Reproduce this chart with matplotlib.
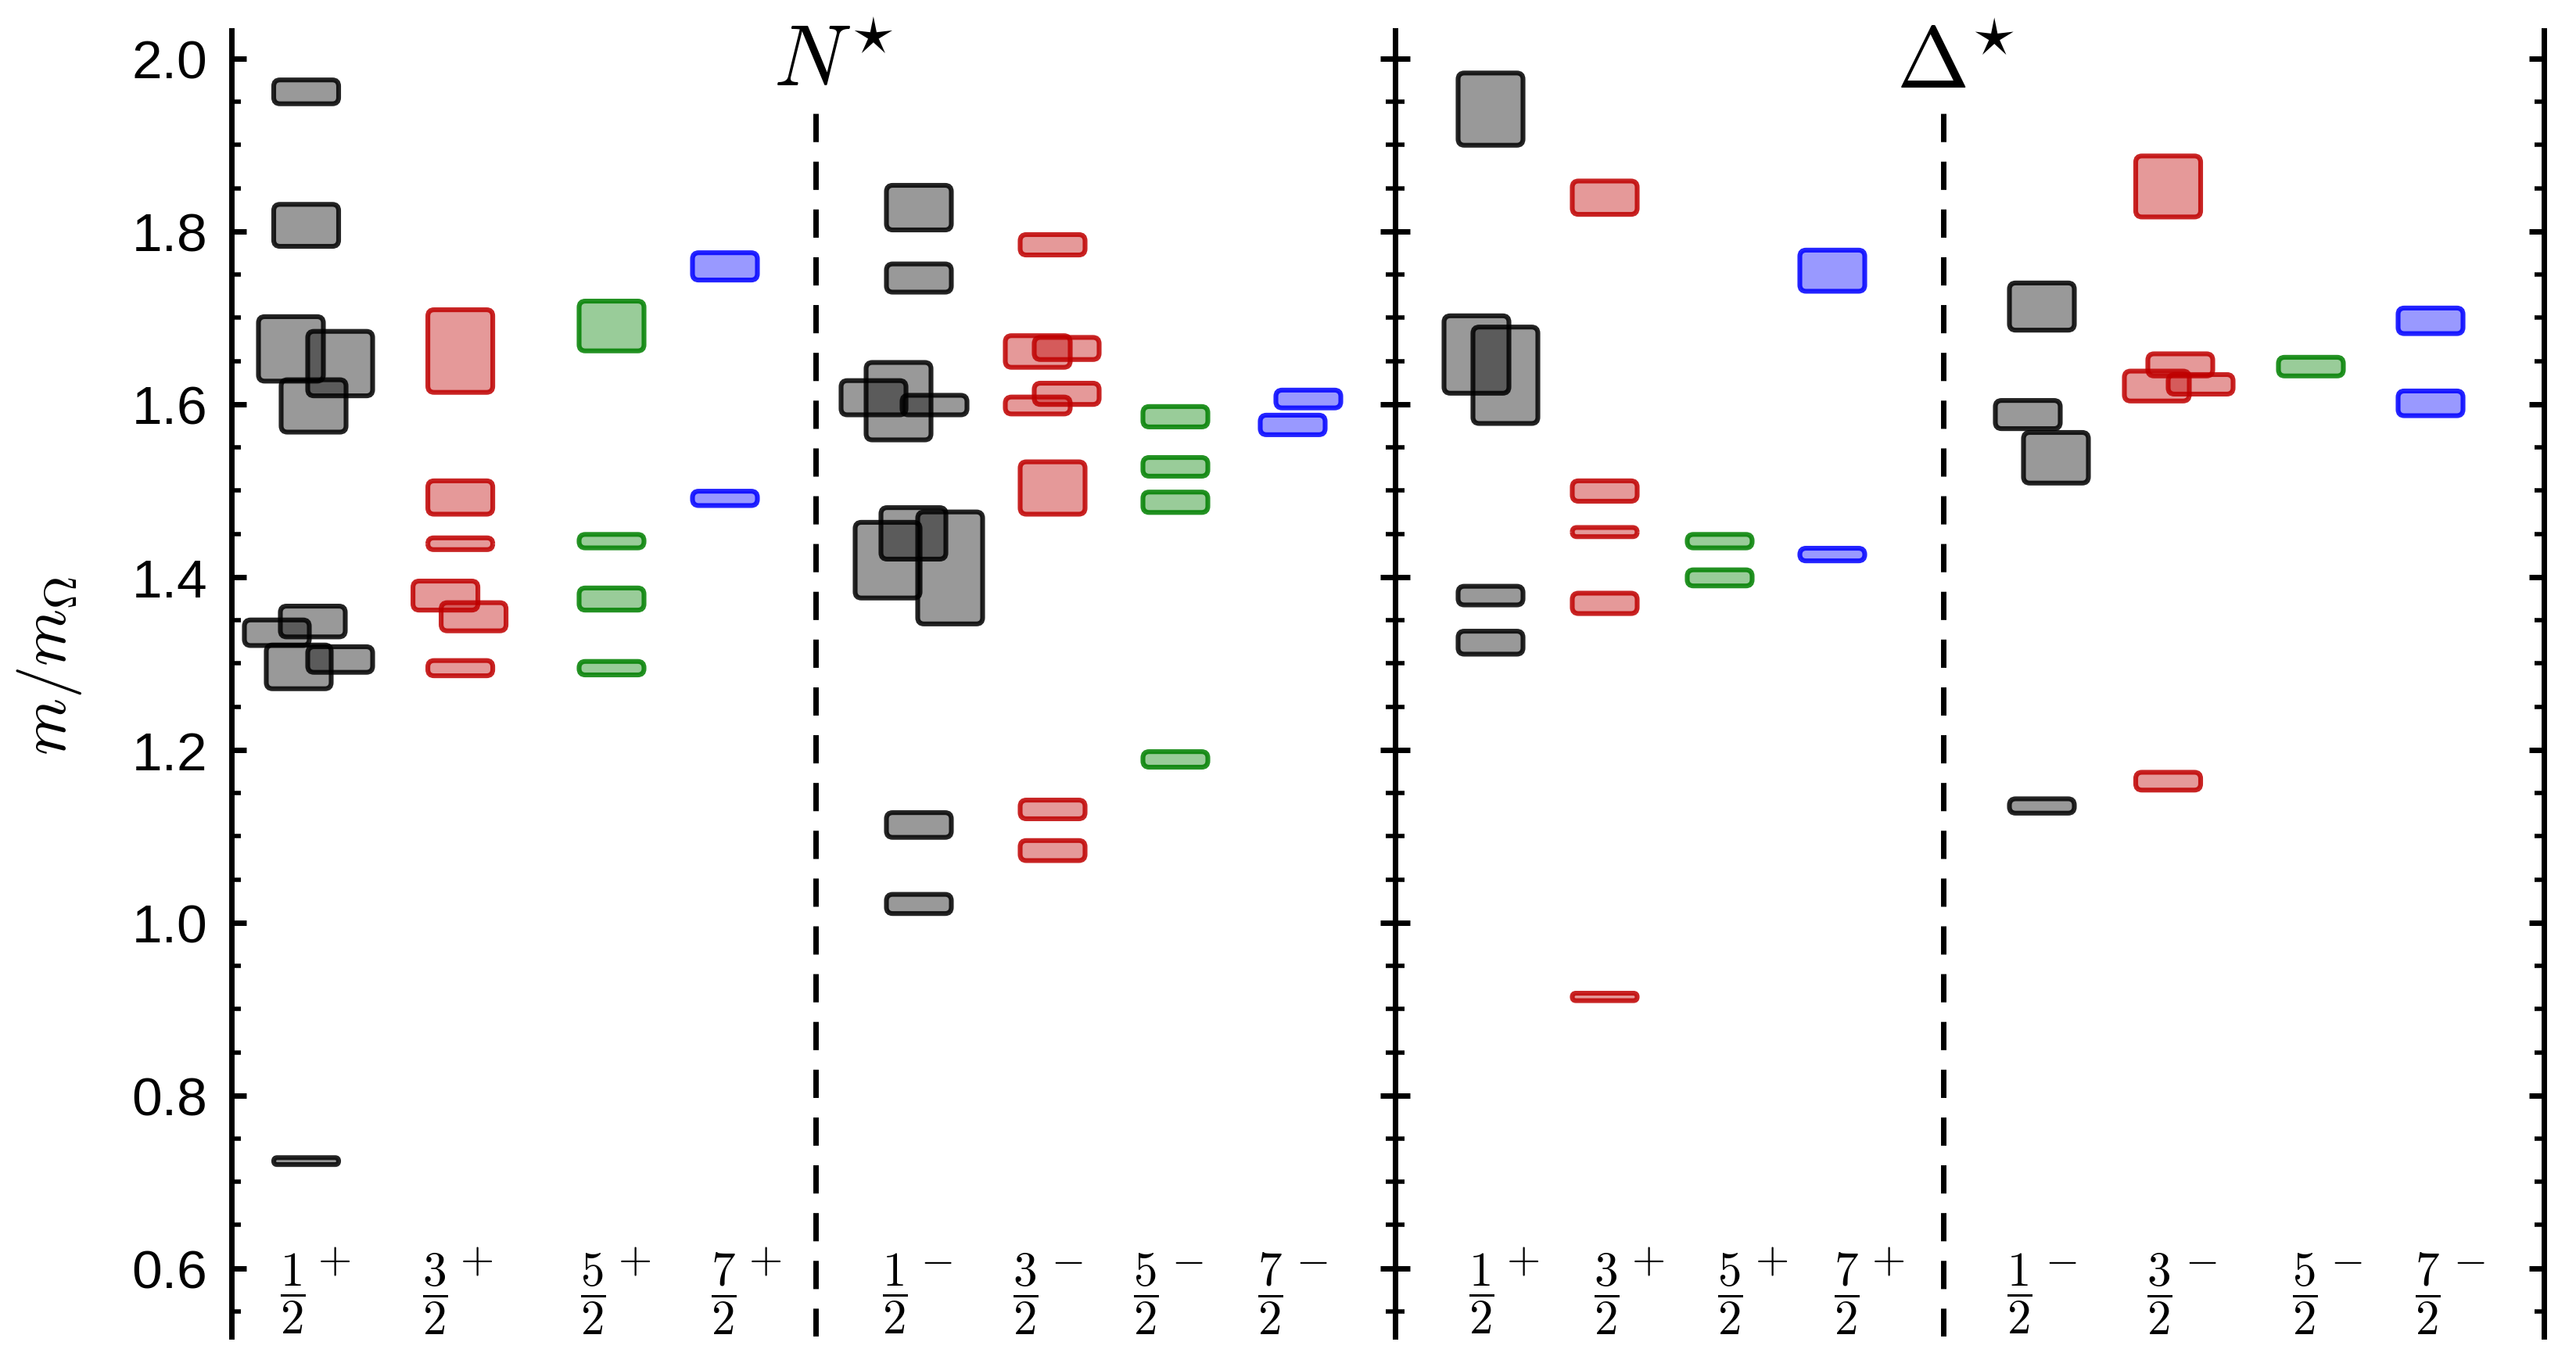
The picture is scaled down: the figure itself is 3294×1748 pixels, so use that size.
import matplotlib
matplotlib.use("Agg")
import matplotlib.pyplot as plt
from matplotlib.patches import FancyBboxPatch

plt.rcParams['font.family'] = ['Liberation Sans', 'DejaVu Sans']
plt.rcParams['mathtext.fontset'] = 'cm'

# ---------------- data (m / m_Omega : centre, half-height, small x-shift) -------------
spin_fracs = [r'$\dfrac{1}{2}$', r'$\dfrac{3}{2}$', r'$\dfrac{5}{2}$', r'$\dfrac{7}{2}$']
parities = ['+', '-']

# N* panel
N_12p_m = [1.9615, 1.807, 1.664, 1.647, 1.598, 1.3485, 1.3355, 1.296, 1.3045, 0.724]
N_12p_e = [0.0138, 0.0243, 0.0373, 0.0373, 0.0303, 0.0178, 0.0148, 0.0253, 0.0148, 0.0040]
N_12p_s = [0, 0, -0.195, 0.435, 0.095, 0.085, -0.375, -0.095, 0.435, 0]
N_32p_m = [1.6615, 1.492, 1.4385, 1.3785, 1.354, 1.2945]
N_32p_e = [0.0478, 0.0193, 0.0068, 0.0168, 0.0163, 0.0088]
N_32p_s = [0, 0, 0, -0.19, 0.17, 0]
N_52p_m = [1.6905, 1.4415, 1.3745, 1.2945]
N_52p_e = [0.0288, 0.0078, 0.0128, 0.0078]
N_72p_m = [1.7595, 1.491]
N_72p_e = [0.0158, 0.0083]
N_12m_m = [1.8275, 1.746, 1.6035, 1.6075, 1.599, 1.4505, 1.4195, 1.4105, 1.113, 1.0216]
N_12m_e = [0.0258, 0.0163, 0.0448, 0.0198, 0.0113, 0.0298, 0.0438, 0.0648, 0.0143, 0.0111]
N_12m_s = [0, 0, -0.26, -0.58, 0.20, -0.07, -0.40, 0.40, 0, 0]
N_32m_m = [1.7845, 1.661, 1.6645, 1.612, 1.5985, 1.503, 1.131, 1.0834]
N_32m_e = [0.0118, 0.0183, 0.0128, 0.0123, 0.0098, 0.0303, 0.0108, 0.0116]
N_32m_s = [0, -0.19, 0.18, 0.18, -0.19, 0, 0, 0]
N_52m_m = [1.5855, 1.5275, 1.4865, 1.1889]
N_52m_e = [0.0118, 0.0108, 0.0118, 0.0090]
N_72m_m = [1.606, 1.576]
N_72m_e = [0.0103, 0.0113]
N_72m_s = [0.10, -0.10]

# Delta* panel
D_12p_m = [1.9415, 1.6575, 1.6335, 1.3785, 1.324]
D_12p_e = [0.0418, 0.0448, 0.0558, 0.0108, 0.0133]
D_12p_s = [0, -0.18, 0.19, 0, 0]
D_32p_m = [1.839, 1.4995, 1.452, 1.3695, 0.914]
D_32p_e = [0.0193, 0.0118, 0.0053, 0.0118, 0.0043]
D_52p_m = [1.4415, 1.399]
D_52p_e = [0.0078, 0.0093]
D_72p_m = [1.7545, 1.426]
D_72p_e = [0.0238, 0.0073]
D_12m_m = [1.713, 1.588, 1.538, 1.135]
D_12m_e = [0.0273, 0.0163, 0.0293, 0.0083]
D_12m_s = [0, -0.18, 0.18, 0]
D_32m_m = [1.852, 1.6455, 1.621, 1.623, 1.1637]
D_32m_e = [0.0353, 0.0128, 0.0173, 0.0113, 0.0103]
D_32m_s = [0, 0.155, -0.145, 0.415, 0]
D_52m_m = [1.6435]
D_52m_e = [0.0108]
D_72m_m = [1.6965, 1.601]
D_72m_e = [0.0148, 0.0143]

y_ticks = [0.6, 0.8, 1.0, 1.2, 1.4, 1.6, 1.8, 2.0]

# ---------------- layout / style --------------------------------------------------------
spin_colors = [(0, 0, 0), (0.75, 0, 0), (0, 0.5, 0), (0, 0, 1)]
N_col_x = [0.955, 2.926, 4.86, 6.31, 8.79, 10.50, 12.07, 13.67]
D_col_x = [1.22, 2.68, 4.15, 5.59, 8.27, 9.885, 11.71, 13.24]
N_lab_x = [0.78, 2.60, 4.62, 6.29, 8.48, 10.15, 11.69, 13.28]
D_lab_x = [1.10, 2.70, 4.28, 5.77, 7.98, 9.77, 11.63, 13.20]
box_w = 0.83
ylo, yhi = 0.521, 2.0325

W, H = 3294, 1749
fig = plt.figure(figsize=(W / 200, H / 200), dpi=200)
bot = 1 - 1710 / H
hgt = (1710 - 40) / H
ax1 = fig.add_axes([296 / W, bot, (1784 - 296) / W, hgt])
ax2 = fig.add_axes([1784 / W, bot, (3253 - 1784) / W, hgt])
ax1.set_xlim(0, 14.88)
ax2.set_xlim(0, 14.69)

for ax in (ax1, ax2):
    ax.set_ylim(ylo, yhi)
    ax.set_yticks(y_ticks)
    ax.set_yticks([v / 100 for v in range(55, 205, 5)], minor=True)
    ax.set_xticks([])
    ax.spines['top'].set_visible(False)
    ax.spines['bottom'].set_visible(False)
    for s in ('left', 'right'):
        ax.spines[s].set_linewidth(2.5)
    ax.tick_params(axis='y', which='major', direction='in', left=True, right=True,
                   length=6.7, width=2.5, labelsize=25, pad=11)
    ax.tick_params(axis='y', which='minor', direction='in', left=True, right=True,
                   length=4.3, width=2.0)
    ax.patch.set_alpha(0)
ax2.tick_params(axis='y', which='both', labelleft=False)
ax1.set_yticklabels(['0.6', '0.8', '1.0', '1.2', '1.4', '1.6', '1.8', '2.0'])

# px-per-unit conversion for rounded corners
x_per_px = 0.01
y_per_px = (yhi - ylo) / 1670
m_aspect = y_per_px / x_per_px
r_corner = 0.08


def draw_column(ax, xc, masses, errs, shifts, color):
    if shifts is None:
        shifts = [0] * len(masses)
    for m, e, s in zip(masses, errs, shifts):
        h = 2 * e
        dr = min(r_corner, 0.5 * box_w, 0.5 * h / m_aspect)
        p = FancyBboxPatch((xc + s - box_w / 2, m - e), box_w, h,
                           boxstyle=f"round,pad=0,rounding_size={dr}",
                           mutation_scale=1, mutation_aspect=m_aspect,
                           facecolor=color + (0.4,), edgecolor=color + (0.86,),
                           linewidth=2.2)
        ax.add_patch(p)


N_cols = [(N_12p_m, N_12p_e, N_12p_s), (N_32p_m, N_32p_e, N_32p_s),
          (N_52p_m, N_52p_e, None), (N_72p_m, N_72p_e, None),
          (N_12m_m, N_12m_e, N_12m_s), (N_32m_m, N_32m_e, N_32m_s),
          (N_52m_m, N_52m_e, None), (N_72m_m, N_72m_e, N_72m_s)]
D_cols = [(D_12p_m, D_12p_e, D_12p_s), (D_32p_m, D_32p_e, None),
          (D_52p_m, D_52p_e, None), (D_72p_m, D_72p_e, None),
          (D_12m_m, D_12m_e, D_12m_s), (D_32m_m, D_32m_e, D_32m_s),
          (D_52m_m, D_52m_e, None), (D_72m_m, D_72m_e, None)]

for ax, cols, colx, labx in ((ax1, N_cols, N_col_x, N_lab_x), (ax2, D_cols, D_col_x, D_lab_x)):
    for i, (m, e, s) in enumerate(cols):
        draw_column(ax, colx[i], m, e, s, spin_colors[i % 4])
        ax.text(labx[i], 0.5709, spin_fracs[i % 4], fontsize=22, ha='center', va='center')
        sign = parities[i // 4]
        ax.text(labx[i] + 0.53, 0.609, f'${sign}$', fontsize=20, ha='center', va='center')

# dashed separators and panel titles
ax1.plot([7.465, 7.465], [ylo, 1.939], color='k', lw=2.5, linestyle=(0, (5.2, 3.6)),
         solid_capstyle='butt', dash_capstyle='butt')
ax2.plot([7.01, 7.01], [ylo, 1.939], color='k', lw=2.5, linestyle=(0, (5.2, 3.6)),
         solid_capstyle='butt', dash_capstyle='butt')
ax1.text(7.70, 1.969, r'$N^{\star}$', fontsize=39.5, ha='center', va='baseline')
ax2.text(7.17, 1.966, r'$\Delta^{\star}$', fontsize=40, ha='center', va='baseline')

fig.text(63 / W, 1 - 851 / H, r'$m/m_{\Omega}$', fontsize=30, rotation=90,
         ha='center', va='center')

fig.savefig('out.png', dpi=200)
